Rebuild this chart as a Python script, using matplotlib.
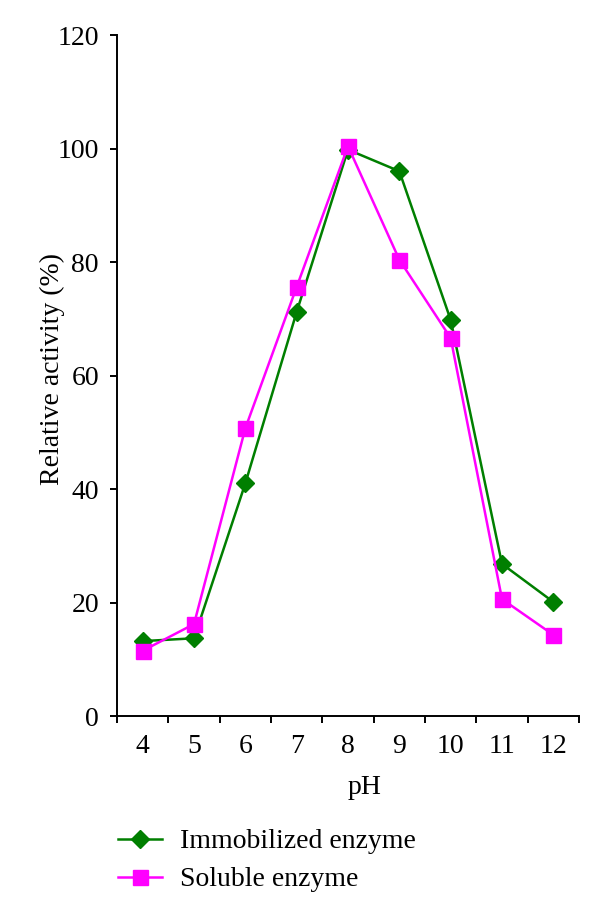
import numpy as np
import matplotlib
matplotlib.use('Agg')
import matplotlib.pyplot as plt

ph = ['4', '5', '6', '7', '8', '9', '10', '11', '12']
immobilized = [13.2, 13.7, 41.0, 71.2, 99.8, 96.0, 69.8, 26.8, 20.1]
soluble = [11.5, 16.2, 50.7, 75.6, 100.4, 80.4, 66.6, 20.6, 14.3]

plt.rcParams['font.family'] = 'Liberation Serif'
plt.rcParams['font.size'] = 20

fig = plt.figure(figsize=(6, 9.14), dpi=100)
ax = fig.add_axes([0.195, 0.2166, 0.77, 0.7451])

x = np.arange(len(ph))
ax.plot(x, immobilized, color='#007f00', lw=1.8, marker='D', ms=9.5,
        label='Immobilized enzyme')
ax.plot(x, soluble, color='#ff00ff', lw=1.8, marker='s', ms=10.8,
        label='Soluble enzyme')

ax.set_xlim(-0.5, len(ph) - 0.5)
ax.set_ylim(0, 120)
ax.set_yticks(range(0, 121, 20))

# category axis: ticks between categories, labels at centres
ax.set_xticks(np.arange(-0.5, len(ph), 1.0))
ax.set_xticklabels([])
ax.set_xticks(x, minor=True)
ax.set_xticklabels(ph, minor=True)
ax.tick_params(axis='x', which='major', direction='out', length=5, width=1.4)
ax.tick_params(axis='x', which='minor', length=0, pad=13)
ax.tick_params(axis='y', direction='out', length=5, width=1.4, pad=8)

for s in ['top', 'right']:
    ax.spines[s].set_visible(False)
for s in ['left', 'bottom']:
    ax.spines[s].set_linewidth(1.4)

ax.set_ylabel('Relative activity (%)')
ax.yaxis.set_label_coords(-0.112, 0.51)
fig.text(365 / 600, 1 - 788 / 914, 'pH', ha='center', va='center')

fig.legend(loc='upper left', bbox_to_anchor=(118 / 600, 1 - 829 / 914),
           frameon=False, handlelength=1.6, handletextpad=0.65,
           labelspacing=0.45, borderaxespad=0, borderpad=0)

fig.savefig('out.png', dpi=100)
